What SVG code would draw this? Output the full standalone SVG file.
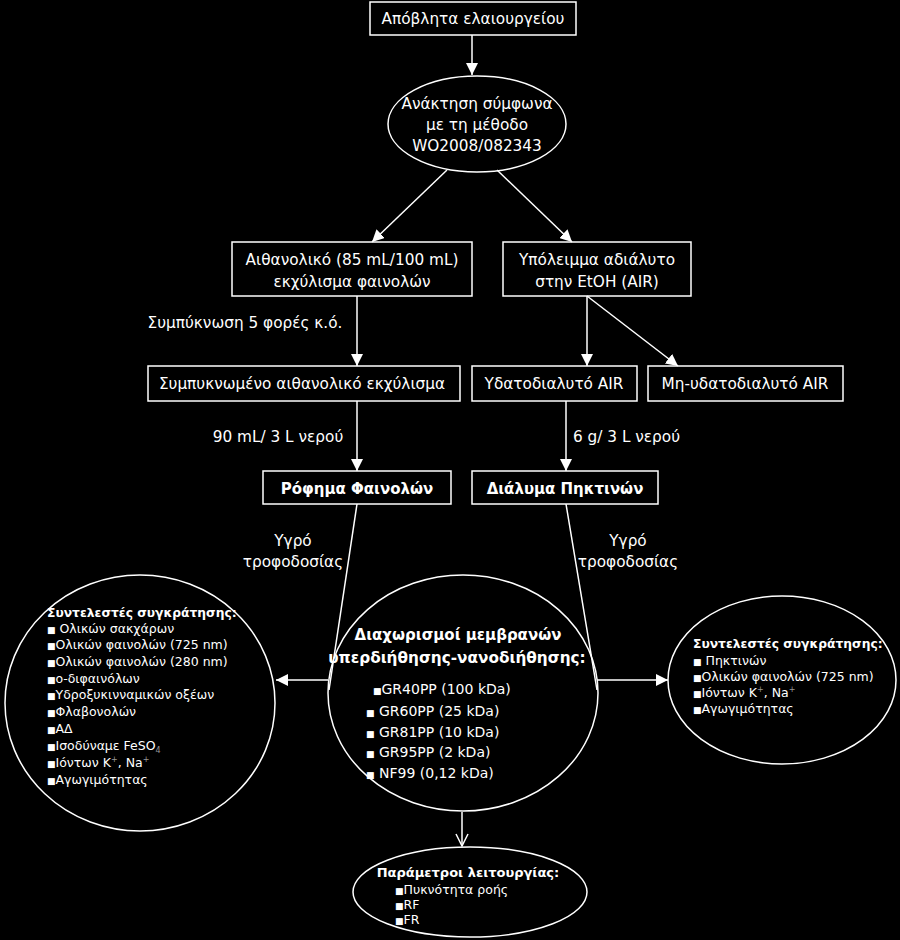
<svg xmlns="http://www.w3.org/2000/svg" width="900" height="940" viewBox="0 0 900 940">
<style>
.bg{fill:#000}
.box{fill:none;stroke:#fff;stroke-width:1.5}
.t{fill:#fff;font-family:"DejaVu Sans","Noto Sans",sans-serif;font-size:15.3px}
.m{fill:#fff;font-family:"DejaVu Sans","Noto Sans",sans-serif;font-size:14px}
.b{fill:#fff;font-family:"DejaVu Sans","Noto Sans",sans-serif;font-weight:bold}
.s{fill:#fff;font-family:"DejaVu Sans","Noto Sans",sans-serif;font-size:12.5px}
.c{text-anchor:middle}
.ln{fill:none;stroke:#fff;stroke-width:1.5}
.bu{font-size:9px}
</style>
<defs>
<marker id="ah" markerUnits="userSpaceOnUse" markerWidth="12" markerHeight="12" viewBox="0 0 12 12" refX="12" refY="6" orient="auto">
<path d="M0,0 L12,6 L0,12 z" fill="#fff"/>
</marker>
<marker id="ao" markerUnits="userSpaceOnUse" markerWidth="14" markerHeight="14" viewBox="0 0 14 14" refX="13" refY="7" orient="auto">
<path d="M1,1 L13,7 L1,13" fill="none" stroke="#fff" stroke-width="1.5"/>
</marker>
</defs>
<rect class="bg" x="0" y="0" width="900" height="940"/>

<g id="connectors">
<line class="ln" x1="472" y1="35" x2="472" y2="75" marker-end="url(#ah)"/>
<line class="ln" x1="447" y1="170" x2="372" y2="242" marker-end="url(#ah)"/>
<line class="ln" x1="497" y1="170" x2="572" y2="242" marker-end="url(#ah)"/>
<line class="ln" x1="357" y1="296" x2="357" y2="366" marker-end="url(#ah)"/>
<line class="ln" x1="587" y1="296" x2="587" y2="366" marker-end="url(#ah)"/>
<line class="ln" x1="587" y1="296" x2="678" y2="366" marker-end="url(#ah)"/>
<line class="ln" x1="357" y1="401" x2="357" y2="471" marker-end="url(#ah)"/>
<line class="ln" x1="566" y1="401" x2="566" y2="471" marker-end="url(#ah)"/>
<line class="ln" x1="357" y1="504" x2="329" y2="690"/>
<line class="ln" x1="566" y1="504" x2="597" y2="690"/>
<line class="ln" x1="328" y1="680" x2="276" y2="680" marker-end="url(#ah)"/>
<line class="ln" x1="597" y1="680" x2="668" y2="680" marker-end="url(#ah)"/>
<line class="ln" x1="462" y1="812" x2="462" y2="846" marker-end="url(#ao)"/>
<text class="t" x="245" y="328" text-anchor="middle">Συμπύκνωση 5 φορές κ.ό.</text>
<text class="t" x="278" y="442" text-anchor="middle">90 mL/ 3 L νερού</text>
<text class="t" x="573" y="442">6 g/ 3 L νερού</text>
<text class="t" x="293" y="546" text-anchor="middle">Υγρό</text>
<text class="t" x="293" y="567" text-anchor="middle">τροφοδοσίας</text>
<text class="t" x="628" y="546" text-anchor="middle">Υγρό</text>
<text class="t" x="628" y="567" text-anchor="middle">τροφοδοσίας</text>
</g>

<g id="n-apovlita">
<rect class="box" x="370" y="2" width="206" height="33"/>
<text class="t c" x="473" y="24">Απόβλητα ελαιουργείου</text>
</g>

<g id="n-anaktisi">
<ellipse class="box" cx="477" cy="124" rx="89" ry="48"/>
<text class="t c" x="477" y="109">Ανάκτηση σύμφωνα</text>
<text class="t c" x="477" y="130">με τη μέθοδο</text>
<text class="t c" x="477" y="151">WO2008/082343</text>
</g>

<g id="n-aithanoliko">
<rect class="box" x="232" y="242" width="240" height="54"/>
<text class="t c" x="352" y="265">Αιθανολικό (85 mL/100 mL)</text>
<text class="t c" x="352" y="287">εκχύλισμα φαινολών</text>
</g>

<g id="n-ypoleimma">
<rect class="box" x="503" y="242" width="188" height="54"/>
<text class="t c" x="597" y="265">Υπόλειμμα αδιάλυτο</text>
<text class="t c" x="597" y="287">στην EtOH  (AIR)</text>
</g>

<g id="n-sympyknomeno">
<rect class="box" x="148" y="366" width="312" height="35"/>
<text class="t c" x="302" y="389">Συμπυκνωμένο αιθανολικό εκχύλισμα</text>
</g>

<g id="n-ydatodialyto">
<rect class="box" x="472" y="366" width="165" height="35"/>
<text class="t c" x="554" y="389">Υδατοδιαλυτό AIR</text>
</g>

<g id="n-mi-ydatodialyto">
<rect class="box" x="648" y="366" width="195" height="35"/>
<text class="t c" x="745" y="389">Μη-υδατοδιαλυτό AIR</text>
</g>

<g id="n-rofima">
<rect class="box" x="263" y="471" width="188" height="33"/>
<text class="b c" x="357" y="494" font-size="15">Ρόφημα Φαινολών</text>
</g>

<g id="n-dialyma">
<rect class="box" x="472" y="471" width="186" height="33"/>
<text class="b c" x="565" y="494" font-size="15">Διάλυμα Πηκτινών</text>
</g>

<g id="n-diaxorismoi">
<ellipse class="box" cx="463" cy="693" rx="135" ry="118"/>
<text class="b c" x="458" y="640" font-size="15">Διαχωρισμοί μεμβρανών</text>
<text class="b c" x="457" y="663" font-size="15.3">υπερδιήθησης-νανοδιήθησης:</text>
<text class="m" x="373" y="694"><tspan class="bu">■</tspan>GR40PP (100 kDa)</text>
<text class="m" x="366" y="716"><tspan class="bu">■</tspan> GR60PP  (25 kDa)</text>
<text class="m" x="366" y="737"><tspan class="bu">■</tspan> GR81PP  (10 kDa)</text>
<text class="m" x="366" y="757"><tspan class="bu">■</tspan> GR95PP  (2 kDa)</text>
<text class="m" x="366" y="778"><tspan class="bu">■</tspan> NF99 (0,12 kDa)</text>
</g>

<g id="n-left">
<ellipse class="box" cx="140" cy="703" rx="135" ry="128"/>
<text class="b" x="47" y="617" font-size="12.3">Συντελεστές συγκράτησης:</text>
<text class="s" x="47" y="633"><tspan class="bu">■</tspan> Ολικών σακχάρων</text>
<text class="s" x="47" y="649"><tspan class="bu">■</tspan>Ολικών φαινολών (725 nm)</text>
<text class="s" x="47" y="666"><tspan class="bu">■</tspan>Ολικών φαινολών (280 nm)</text>
<text class="s" x="47" y="683"><tspan class="bu">■</tspan>ο-διφαινόλων</text>
<text class="s" x="47" y="699"><tspan class="bu">■</tspan>Υδροξυκινναμικών οξέων</text>
<text class="s" x="47" y="716"><tspan class="bu">■</tspan>Φλαβονολών</text>
<text class="s" x="47" y="733"><tspan class="bu">■</tspan>ΑΔ</text>
<text class="s" x="47" y="750"><tspan class="bu">■</tspan>Ισοδύναμε FeSO<tspan font-size="8" dy="3" fill="#999">4</tspan></text>
<text class="s" x="47" y="767"><tspan class="bu">■</tspan>Ιόντων K<tspan font-size="8" dy="-5" fill="#999">+</tspan><tspan dy="5">, Na</tspan><tspan font-size="8" dy="-5" fill="#999">+</tspan></text>
<text class="s" x="47" y="784"><tspan class="bu">■</tspan>Αγωγιμότητας</text>
</g>

<g id="n-right">
<ellipse class="box" cx="782" cy="680" rx="114" ry="84"/>
<text class="b" x="693" y="648" font-size="12.3">Συντελεστές συγκράτησης:</text>
<text class="s" x="693" y="665"><tspan class="bu">■</tspan> Πηκτινών</text>
<text class="s" x="693" y="681"><tspan class="bu">■</tspan>Ολικών φαινολών (725 nm)</text>
<text class="s" x="693" y="697"><tspan class="bu">■</tspan>Ιόντων K<tspan font-size="8" dy="-5" fill="#999">+</tspan><tspan dy="5">, Na</tspan><tspan font-size="8" dy="-5" fill="#999">+</tspan></text>
<text class="s" x="693" y="713"><tspan class="bu">■</tspan>Αγωγιμότητας</text>
</g>

<g id="n-parametroi">
<ellipse class="box" cx="470" cy="892" rx="117" ry="45"/>
<text class="b c" x="468" y="877" font-size="13">Παράμετροι λειτουργίας:</text>
<text class="s" x="395" y="894"><tspan class="bu">■</tspan>Πυκνότητα ροής</text>
<text class="s" x="395" y="909"><tspan class="bu">■</tspan>RF</text>
<text class="s" x="395" y="924"><tspan class="bu">■</tspan>FR</text>
</g>
</svg>
